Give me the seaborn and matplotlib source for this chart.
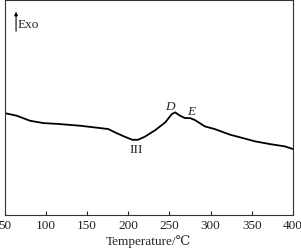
import matplotlib
matplotlib.use("Agg")
import matplotlib.pyplot as plt
import pandas as pd
import seaborn as sns

# DSC curve (arbitrary heat-flow units)
temperature = [50, 65, 81, 97, 117, 142, 166, 176, 184, 196, 205, 212, 220, 233, 245,
               253, 257, 263, 269, 275, 281, 293, 305, 324, 336, 354, 372, 390, 400]
heat_flow = [10.2, 9.93, 9.43, 9.2, 9.1, 8.93, 8.7, 8.6, 8.27, 7.83, 7.53, 7.53, 7.83, 8.5, 9.27,
             10.1, 10.27, 9.93, 9.7, 9.7, 9.5, 8.87, 8.6, 8.03, 7.77, 7.37, 7.1, 6.87, 6.6]
x_ticks = [50, 100, 150, 200, 250, 300, 350, 400]

sns.set_style("ticks")
plt.rcParams["font.family"] = ["Liberation Serif", "DejaVu Serif", "Noto Sans CJK SC"]

df = pd.DataFrame({"T": temperature, "q": heat_flow})

fig = plt.figure(figsize=(3.01, 2.51), dpi=100)
ax = fig.add_axes([0.015, 0.139, 0.9585, 0.857])
sns.lineplot(data=df, x="T", y="q", color="black", linewidth=1.3, ax=ax)

ax.set_xlim(50, 400)
ax.set_ylim(0, 21.5)
ax.set_xticks(x_ticks)
ax.set_yticks([])
ax.tick_params(axis="x", direction="in", length=3, width=0.8, labelsize=9.5, pad=3, colors="#222222")
for s in ax.spines.values():
    s.set_linewidth(0.8)
    s.set_color("#333333")
ax.set_xlabel("Temperature/℃", fontsize=9.5, labelpad=2)
ax.set_ylabel("")

# annotations
ax.text(210, 6.6, "III", fontsize=9.5, ha="center", va="center")
ax.text(251, 10.9, "D", fontsize=9.5, style="italic", ha="center", va="center")
ax.text(276, 10.45, "E", fontsize=9.5, style="italic", ha="center", va="center")
ax.annotate("", xy=(64, 20.6), xytext=(64, 18.1),
            arrowprops=dict(arrowstyle="-|>", color="black", lw=0.8, mutation_scale=5))
ax.text(66, 19.1, "Exo", fontsize=9.5, ha="left", va="center")

fig.savefig("out.png", dpi=100)
